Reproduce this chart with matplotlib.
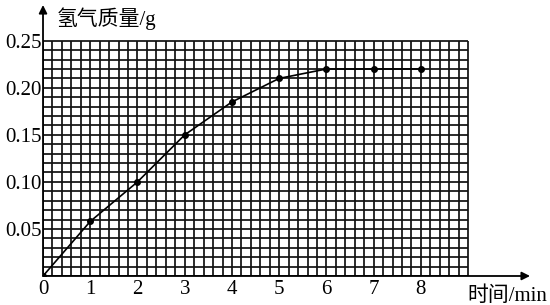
import matplotlib.pyplot as plt

plt.rcParams['font.family'] = ['Liberation Serif', 'Noto Sans CJK SC']

time_min = [0, 1, 2, 3, 4, 5, 6, 7, 8]
h2_mass = [0, 0.058, 0.10, 0.15, 0.185, 0.21, 0.22, 0.22, 0.22]
x_ticks = [0, 1, 2, 3, 4, 5, 6, 7, 8]
y_ticks = [0.05, 0.10, 0.15, 0.20, 0.25]
y_tick_labels = ["0.05", "0.10", "0.15", "0.20", "0.25"]

fig = plt.figure(figsize=(5.5, 3.05), dpi=100)
ax = fig.add_axes([0.0782, 0.0951, 0.8855, 0.8885])
ax.set_xlim(0, 10.31)
ax.set_ylim(0, 0.288)

# graph paper: 5 cells per minute, 0.01 g per cell
grid_x = [i * 0.2 for i in range(46)]
grid_y = [i * 0.01 for i in range(26)]
ax.vlines(grid_x, 0, 0.25, color="#111111", lw=1.25, zorder=1)
ax.hlines(grid_y, 0, 9, color="#111111", lw=1.25, zorder=1)

for s in ax.spines.values():
    s.set_visible(False)

# axes with arrows
ax.annotate("", xy=(1.0, 0), xytext=(0, 0), xycoords="axes fraction",
            arrowprops=dict(arrowstyle="-|>", color="black", lw=1.3,
                            mutation_scale=12, shrinkA=0, shrinkB=0))
ax.annotate("", xy=(0, 1.0), xytext=(0, 0), xycoords="axes fraction",
            arrowprops=dict(arrowstyle="-|>", color="black", lw=1.3,
                            mutation_scale=12, shrinkA=0, shrinkB=0))

ax.plot(time_min, h2_mass, color="black", lw=1.2, zorder=3)
ax.plot(time_min, h2_mass, "o", color="black", ms=4, zorder=4)

ax.set_xticks(x_ticks)
ax.set_xticklabels([str(t) for t in x_ticks])
ax.set_yticks(y_ticks)
ax.set_yticklabels(y_tick_labels)
ax.tick_params(length=0, labelsize=15)
ax.tick_params(axis="x", pad=3)
ax.tick_params(axis="y", pad=1)

ax.text(0.3, 0.288 - 0.002, "氢气质量/g", ha="left", va="top", fontsize=15)
ax.text(8.98, -0.011, "时间/min", ha="left", va="top", fontsize=15)

fig.savefig("out.png", dpi=100)
plt.close(fig)
